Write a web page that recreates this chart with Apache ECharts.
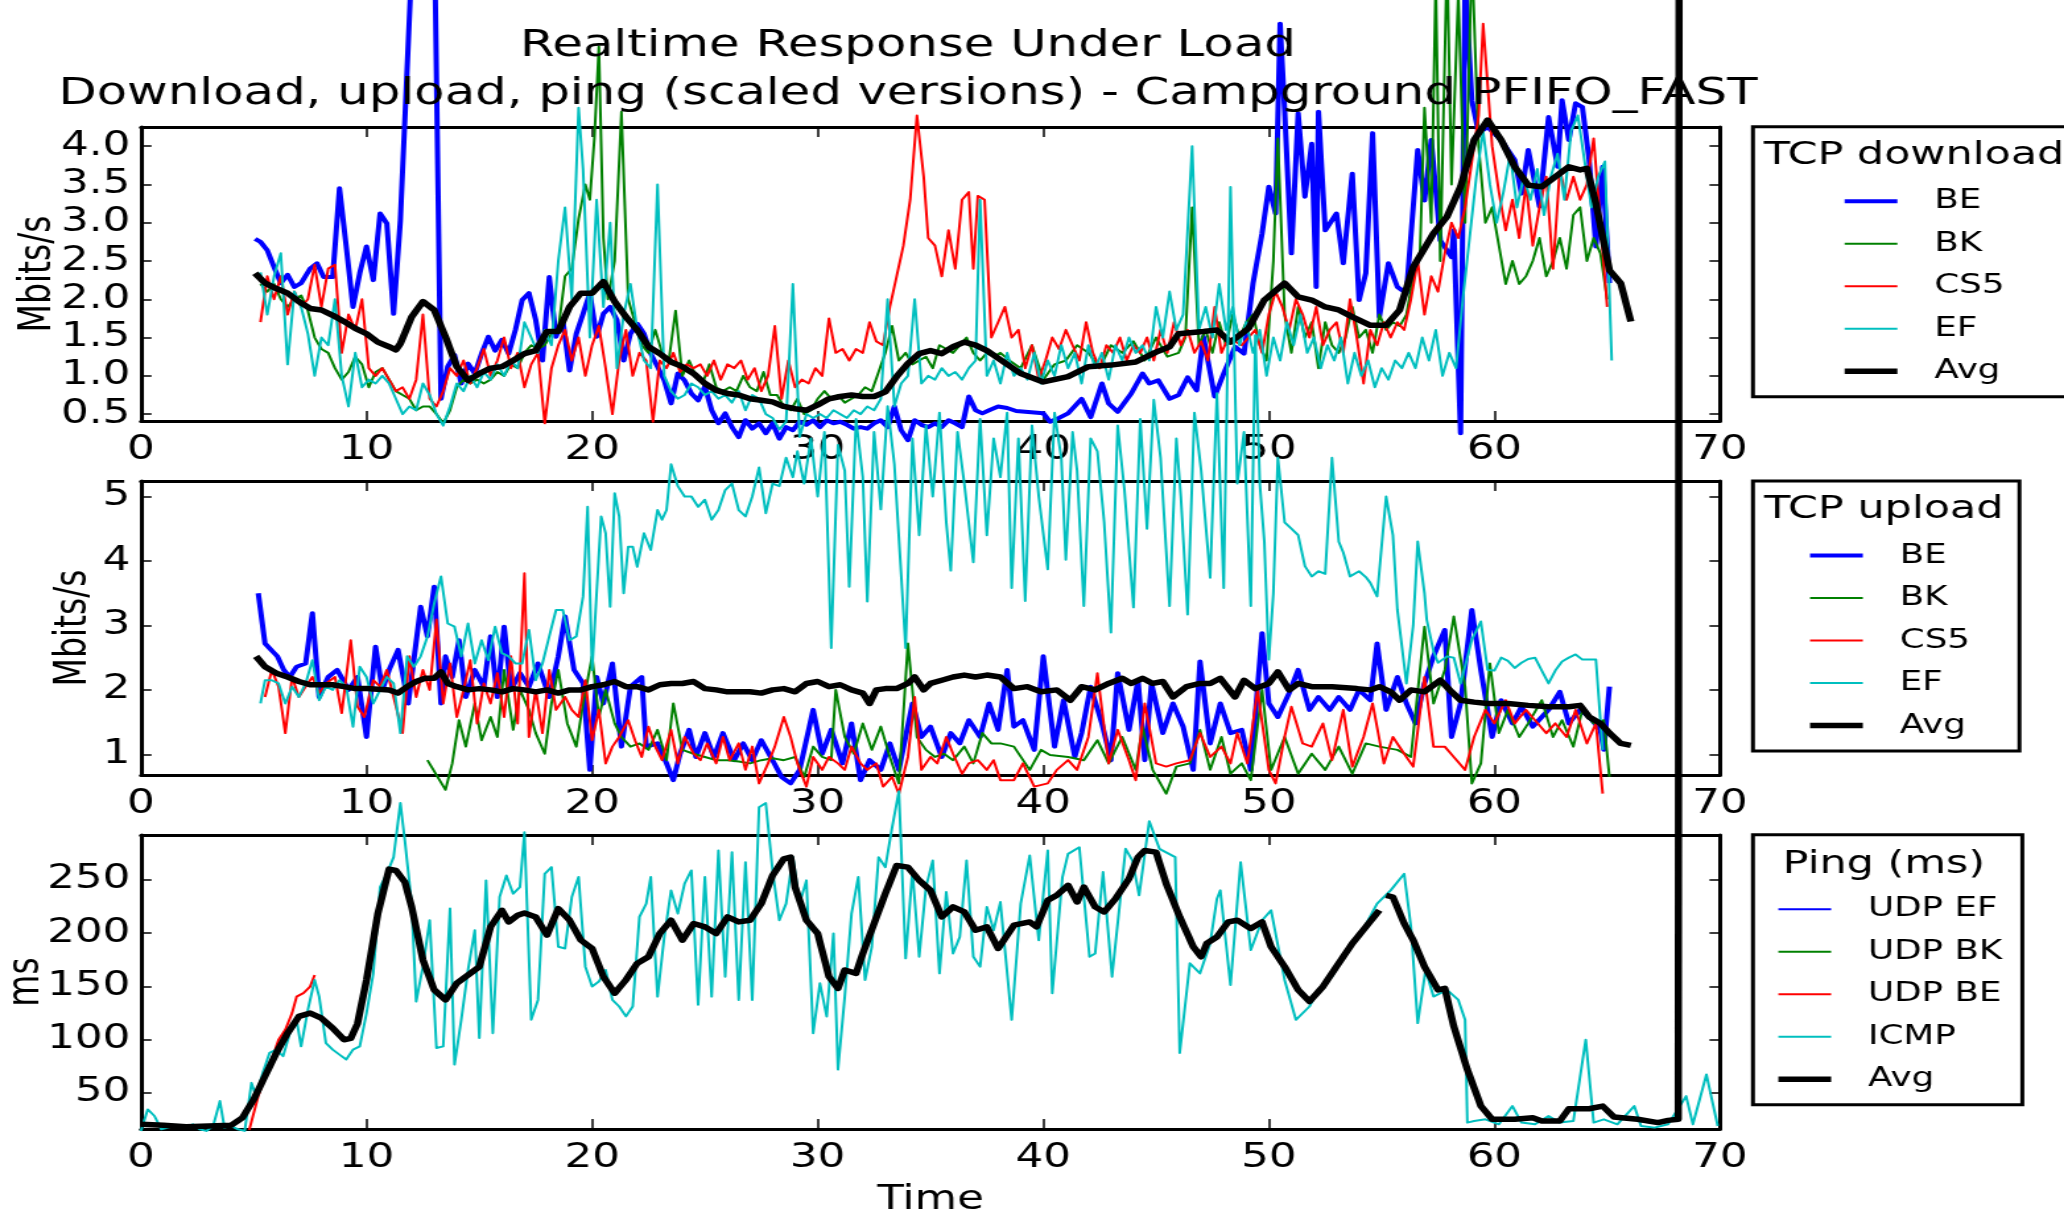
<!DOCTYPE html>
<html><head><meta charset="utf-8">
<script src="https://cdn.jsdelivr.net/npm/echarts@6/dist/echarts.min.js"></script>
<style>
html,body{margin:0;padding:0;background:#fff;overflow:hidden;}
#wrap{width:2064px;height:1212px;overflow:hidden;position:relative;background:#fff;}
#chart{width:1564px;height:1212px;transform:scaleX(1.3197);transform-origin:0 0;}
</style></head><body><div id="wrap"><div id="chart"></div></div>
<script>
// ---------- axis ticks ----------
const X_TICKS_INTERVAL = 10;
const DL_Y_TICKS = [0.5, 1.0, 1.5, 2.0, 2.5, 3.0, 3.5, 4.0];
const UL_Y_TICKS = [1, 2, 3, 4, 5];
const PING_Y_TICKS = [50, 100, 150, 200, 250];

// ---------- TCP download (Mbits/s) ----------
const DL_BE = [[5.06,2.79],[5.3,2.75],[5.6,2.64],[5.9,2.42],[6.2,2.21],[6.5,2.32],[6.8,2.16],[7.1,2.21],[7.5,2.40],[7.8,2.47],[8.1,2.29],[8.5,2.29],[8.8,3.45],[9.1,2.69],[9.4,1.90],[9.7,2.34],[10.0,2.69],[10.3,2.25],[10.6,3.12],[10.9,2.99],[11.2,1.81],[11.5,3.03],[12.1,7.0],[12.6,7.5],[13.0,7.0],[13.3,0.70],[13.6,1.12],[13.9,1.27],[14.2,0.90],[14.5,1.16],[14.8,1.03],[15.1,1.29],[15.4,1.51],[15.7,1.33],[16.0,1.47],[16.3,1.29],[16.6,1.60],[16.9,1.99],[17.2,2.08],[17.5,1.73],[17.8,1.20],[18.1,2.29],[18.4,1.51],[18.7,1.73],[19.0,1.07],[19.3,1.55],[19.6,1.81],[19.9,2.08],[20.2,1.51],[20.5,1.81],[20.8,1.90],[21.1,1.73],[21.4,1.20],[21.7,1.55],[22.0,1.68],[22.3,1.55],[22.6,1.29],[22.9,1.12],[23.2,0.94],[23.5,0.64],[23.8,1.03],[24.1,0.94],[24.4,0.77],[24.7,0.68],[25.0,0.86],[25.3,0.55],[25.6,0.38],[25.9,0.51],[26.2,0.33],[26.5,0.20],[26.8,0.42],[27.1,0.31],[27.4,0.38],[27.7,0.25],[28.0,0.38],[28.3,0.18],[28.6,0.33],[28.9,0.29],[29.2,0.40],[29.5,0.36],[29.8,0.42],[30.1,0.33],[30.4,0.42],[30.7,0.38],[31.0,0.40],[31.3,0.36],[31.6,0.31],[31.9,0.33],[32.2,0.31],[32.5,0.38],[32.8,0.42],[33.1,0.33],[33.4,0.60],[33.7,0.29],[34.0,0.16],[34.3,0.42],[34.6,0.36],[34.9,0.33],[35.2,0.38],[35.5,0.33],[35.8,0.42],[36.1,0.38],[36.4,0.33],[36.7,0.73],[37.0,0.55],[37.3,0.51],[37.6,0.55],[38.0,0.60],[38.4,0.58],[38.8,0.54],[39.2,0.53],[39.6,0.52],[40.0,0.51],[40.3,0.40],[40.7,0.45],[41.1,0.51],[41.7,0.70],[42.1,0.46],[42.6,0.90],[42.9,0.64],[43.3,0.53],[43.9,0.77],[44.4,1.03],[44.7,0.90],[45.1,0.94],[45.6,0.70],[46.0,0.75],[46.4,0.98],[46.8,0.81],[47.1,1.51],[47.6,0.73],[48.0,1.03],[48.5,1.38],[48.9,1.29],[49.3,2.21],[49.7,2.86],[50.0,3.47],[50.3,3.12],[50.5,5.6],[50.7,4.47],[51.0,2.60],[51.3,4.43],[51.6,3.34],[51.9,4.03],[52.1,2.16],[52.2,4.45],[52.5,2.90],[53.0,3.12],[53.3,2.47],[53.7,3.64],[54.0,1.99],[54.3,2.34],[54.6,4.17],[54.9,1.77],[55.3,2.47],[55.7,2.16],[56.1,2.08],[56.6,3.95],[56.9,3.29],[57.2,4.08],[57.6,2.77],[58.1,2.55],[58.2,2.90],[58.5,0.25],[58.7,6.2],[59.0,4.60],[59.3,4.17],[59.7,4.25],[60.3,4.08],[60.9,3.82],[61.2,3.38],[61.5,3.95],[62.0,3.21],[62.4,4.38],[62.8,3.73],[63.0,4.60],[63.3,4.08],[63.6,4.56],[63.9,4.51],[64.2,3.82],[64.5,2.69],[64.8,3.73],[65.1,2.21]];
const DL_BK = [[5.3,2.2],[5.6,2.1],[5.9,2.2],[6.2,2.0],[6.5,1.9],[6.8,2.0],[7.1,2.05],[7.4,1.85],[7.7,1.5],[8.0,1.35],[8.3,1.3],[8.6,1.1],[8.9,0.95],[9.2,1.05],[9.5,1.25],[9.8,1.15],[10.1,0.85],[10.4,1.05],[10.7,1.1],[11.0,0.95],[11.3,0.8],[11.6,0.75],[11.9,0.7],[12.2,0.55],[12.5,0.6],[12.8,0.6],[13.1,0.5],[13.4,0.38],[13.7,0.55],[14.0,0.85],[14.3,0.95],[14.6,0.9],[14.9,0.95],[15.2,0.9],[15.5,0.95],[15.8,1.05],[16.1,1.0],[16.4,1.15],[16.7,1.1],[17.0,1.3],[17.3,1.4],[17.6,1.35],[17.9,1.4],[18.2,1.55],[18.5,1.6],[18.8,2.3],[19.1,2.4],[19.4,3.05],[19.7,3.5],[19.9,3.3],[20.1,4.1],[20.3,5.3],[20.5,2.8],[20.7,2.0],[21.0,2.5],[21.3,4.45],[21.6,2.0],[21.9,1.7],[22.2,1.4],[22.5,1.3],[22.8,1.6],[23.1,1.3],[23.4,1.2],[23.7,1.85],[24.0,1.0],[24.3,1.2],[24.6,1.0],[24.9,0.9],[25.2,1.15],[25.5,0.85],[25.8,0.8],[26.1,0.85],[26.4,0.8],[26.7,1.0],[27.0,0.85],[27.3,0.8],[27.6,1.05],[27.9,0.75],[28.2,0.75],[28.5,0.6],[28.8,0.55],[29.1,0.7],[29.4,0.5],[29.7,0.55],[30.0,0.7],[30.3,0.8],[30.6,0.7],[30.9,0.75],[31.2,0.65],[31.5,0.7],[31.8,0.75],[32.1,0.85],[32.4,0.8],[32.7,1.05],[33.0,1.3],[33.3,1.65],[33.6,1.2],[33.9,1.3],[34.2,1.15],[34.5,1.2],[34.8,1.25],[35.1,1.1],[35.4,1.4],[35.7,1.35],[36.0,1.3],[36.3,1.4],[36.6,1.5],[36.9,1.3],[37.2,1.2],[37.5,1.3],[37.8,1.25],[38.1,1.3],[38.5,1.2],[39.0,1.1],[39.5,1.4],[40.0,0.95],[40.5,1.15],[41.0,1.2],[41.5,1.4],[42.0,1.3],[42.5,1.1],[43.0,1.4],[43.5,1.3],[44.0,1.45],[44.5,1.2],[45.0,1.5],[45.5,1.25],[46.0,1.3],[46.3,1.5],[46.6,3.2],[46.9,1.4],[47.2,1.6],[47.5,1.3],[47.8,1.7],[48.1,1.4],[48.4,1.8],[48.7,1.5],[49.0,1.7],[49.3,1.8],[49.6,1.4],[49.9,1.2],[50.2,2.5],[50.4,4.1],[50.7,1.8],[51.0,1.3],[51.3,1.9],[51.6,1.5],[51.9,1.7],[52.2,1.1],[52.5,1.7],[52.8,1.4],[53.1,1.3],[53.4,1.5],[53.7,1.9],[54.0,1.5],[54.3,1.6],[54.6,1.3],[54.9,1.8],[55.2,1.6],[55.5,1.7],[55.8,1.65],[56.1,1.8],[56.4,2.3],[56.7,2.6],[56.9,4.5],[57.2,3.0],[57.4,6.2],[57.6,2.5],[57.9,6.5],[58.1,3.5],[58.4,6.0],[58.7,3.0],[59.0,6.5],[59.3,4.0],[59.6,3.0],[59.9,3.2],[60.2,2.7],[60.5,2.2],[60.8,2.5],[61.1,2.2],[61.4,2.3],[61.7,2.5],[62.0,2.8],[62.3,2.3],[62.6,2.5],[62.9,2.8],[63.2,2.4],[63.5,3.1],[63.8,3.2],[64.1,2.5],[64.4,2.8],[64.7,2.6],[65.0,2.0]];
const DL_CS5 = [[5.3,1.7],[5.6,2.3],[5.9,2.0],[6.2,2.3],[6.5,1.8],[6.8,2.1],[7.1,1.9],[7.4,2.0],[7.7,2.45],[8.0,1.9],[8.3,2.4],[8.6,2.45],[8.9,1.3],[9.2,1.8],[9.5,1.6],[9.8,2.0],[10.1,1.1],[10.4,1.0],[10.7,1.1],[11.0,0.95],[11.3,0.8],[11.6,0.85],[11.9,0.7],[12.2,0.95],[12.5,1.8],[12.8,0.7],[13.1,0.6],[13.4,0.8],[13.7,1.1],[14.0,1.0],[14.3,1.2],[14.6,0.9],[14.9,1.1],[15.2,1.35],[15.5,1.0],[15.8,1.2],[16.1,1.5],[16.4,1.1],[16.7,1.3],[17.0,0.85],[17.3,1.15],[17.6,1.3],[17.9,0.38],[18.2,1.1],[18.5,1.4],[18.8,1.6],[19.1,1.2],[19.4,1.5],[19.7,1.0],[20.0,1.4],[20.3,1.65],[20.6,1.1],[20.9,0.5],[21.2,1.2],[21.5,1.6],[21.8,1.0],[22.1,1.3],[22.4,1.2],[22.7,0.4],[23.0,1.2],[23.3,1.1],[23.6,1.3],[23.9,1.05],[24.2,1.15],[24.5,1.1],[24.8,1.15],[25.1,1.0],[25.4,1.2],[25.7,0.95],[26.0,1.15],[26.3,1.1],[26.6,1.2],[26.9,0.95],[27.2,1.1],[27.5,0.8],[27.8,1.0],[28.1,1.65],[28.4,0.7],[28.7,1.2],[29.0,0.85],[29.3,0.95],[29.6,0.9],[29.9,1.1],[30.2,1.0],[30.5,1.75],[30.8,1.3],[31.1,1.35],[31.4,1.2],[31.7,1.35],[32.0,1.3],[32.3,1.7],[32.6,1.45],[32.9,1.4],[33.2,1.9],[33.5,2.3],[33.8,2.7],[34.1,3.3],[34.4,4.4],[34.7,3.6],[34.9,2.8],[35.2,2.7],[35.5,2.3],[35.8,2.9],[36.1,2.4],[36.4,3.3],[36.7,3.4],[36.9,2.4],[37.1,3.35],[37.4,3.3],[37.7,1.5],[38.0,1.7],[38.3,1.9],[38.6,1.5],[38.9,1.6],[39.2,1.1],[39.5,1.4],[39.8,0.95],[40.1,1.2],[40.4,1.5],[40.7,1.35],[41.0,1.6],[41.3,1.4],[41.6,1.2],[41.9,1.7],[42.2,1.3],[42.5,1.1],[42.8,1.4],[43.1,1.3],[43.4,1.5],[43.7,1.2],[44.0,1.4],[44.3,1.3],[44.6,1.5],[44.9,1.2],[45.2,1.6],[45.5,1.3],[45.8,1.7],[46.1,1.4],[46.4,1.6],[46.7,1.3],[47.0,1.45],[47.3,1.2],[47.6,1.9],[47.9,1.3],[48.2,1.5],[48.5,1.45],[48.8,1.4],[49.1,1.5],[49.4,1.6],[49.7,1.3],[50.0,1.8],[50.3,2.1],[50.6,1.9],[50.9,1.6],[51.2,2.0],[51.5,1.8],[51.8,1.5],[52.1,1.9],[52.4,1.4],[52.7,1.6],[53.0,1.7],[53.3,1.3],[53.6,2.0],[53.9,1.5],[54.2,0.9],[54.5,1.6],[54.8,1.4],[55.1,1.7],[55.4,1.5],[55.7,1.7],[56.0,1.6],[56.3,2.0],[56.6,2.5],[56.9,1.8],[57.2,2.3],[57.5,2.1],[57.8,2.6],[58.1,3.0],[58.4,2.8],[58.7,3.2],[59.0,3.8],[59.3,4.4],[59.5,5.6],[59.9,4.0],[60.2,3.4],[60.5,2.9],[60.8,3.3],[61.1,2.8],[61.4,3.5],[61.7,2.7],[62.0,3.2],[62.3,3.6],[62.6,2.4],[62.9,3.7],[63.2,3.3],[63.5,3.6],[63.8,3.3],[64.1,3.5],[64.4,4.1],[64.7,3.0],[65.0,1.9]];
const DL_EF = [[5.3,2.35],[5.6,1.8],[5.9,2.3],[6.2,2.6],[6.5,1.15],[6.8,2.1],[7.1,1.9],[7.4,1.55],[7.7,1.0],[8.0,1.5],[8.3,1.4],[8.6,2.0],[8.9,1.0],[9.2,0.6],[9.5,1.3],[9.8,0.85],[10.1,0.95],[10.4,0.9],[10.7,1.0],[11.0,0.9],[11.3,0.7],[11.6,0.5],[11.9,0.6],[12.2,0.55],[12.5,0.9],[12.8,0.75],[13.1,0.5],[13.4,0.35],[13.7,0.6],[14.0,0.9],[14.3,0.8],[14.6,1.0],[14.9,0.85],[15.2,1.05],[15.5,0.95],[15.8,1.15],[16.1,1.0],[16.4,1.2],[16.7,1.1],[17.0,1.7],[17.3,1.5],[17.6,1.3],[17.9,1.6],[18.2,1.4],[18.5,2.5],[18.8,3.2],[19.1,2.0],[19.4,4.5],[19.6,3.7],[19.9,1.5],[20.2,3.3],[20.5,1.9],[20.8,3.0],[21.1,1.1],[21.4,1.8],[21.7,2.2],[22.0,1.6],[22.3,1.2],[22.6,1.1],[22.9,3.5],[23.2,1.0],[23.5,0.8],[23.8,0.7],[24.1,0.75],[24.4,0.9],[24.7,0.85],[25.0,0.75],[25.3,0.8],[25.6,0.7],[25.9,0.75],[26.2,0.65],[26.5,0.8],[26.8,0.55],[27.1,0.75],[27.4,0.7],[27.7,0.5],[28.0,0.45],[28.3,0.3],[28.6,0.4],[28.9,2.2],[29.2,0.2],[29.5,0.5],[29.8,0.45],[30.1,0.5],[30.4,0.45],[30.7,0.55],[31.0,0.5],[31.3,0.45],[31.6,0.55],[31.9,0.5],[32.2,0.6],[32.5,0.55],[32.8,0.7],[33.1,2.0],[33.4,0.6],[33.7,0.9],[34.0,1.0],[34.3,2.0],[34.6,0.9],[34.9,1.0],[35.2,0.95],[35.5,1.1],[35.8,1.0],[36.1,1.05],[36.4,0.95],[36.7,1.1],[37.0,1.2],[37.2,3.3],[37.5,1.0],[37.8,1.2],[38.1,0.9],[38.4,1.3],[38.7,1.0],[39.0,1.1],[39.3,0.95],[39.6,1.3],[39.9,0.9],[40.2,1.2],[40.5,1.0],[40.8,1.4],[41.1,1.1],[41.4,1.3],[41.7,0.9],[42.0,1.4],[42.3,1.1],[42.6,1.3],[42.9,0.95],[43.2,1.4],[43.5,1.2],[43.8,1.5],[44.1,1.3],[44.4,1.4],[44.7,1.2],[45.0,1.9],[45.3,1.5],[45.6,2.1],[45.9,1.6],[46.2,1.8],[46.6,4.0],[46.9,1.6],[47.2,1.9],[47.5,1.5],[47.8,2.2],[48.1,1.6],[48.4,1.9],[48.7,1.4],[49.0,1.7],[49.3,1.3],[49.6,1.6],[49.9,1.0],[50.2,1.5],[50.5,1.2],[50.8,1.7],[51.1,1.4],[51.4,1.8],[51.7,1.3],[52.0,1.5],[52.3,1.1],[52.6,1.4],[52.9,1.2],[53.2,1.5],[53.5,0.9],[53.8,1.3],[54.1,1.0],[54.4,1.2],[54.7,0.85],[55.0,1.1],[55.3,0.95],[55.6,1.2],[55.9,1.1],[56.2,1.3],[56.5,1.1],[56.8,1.5],[57.1,1.2],[57.4,1.6],[57.7,1.0],[58.0,1.3],[58.3,1.1],[58.6,2.0],[58.9,2.8],[59.2,3.6],[59.5,4.2],[59.8,3.5],[60.1,3.0],[60.4,3.4],[60.7,3.9],[61.0,3.2],[61.3,3.6],[61.6,3.3],[61.9,3.7],[62.2,3.1],[62.5,3.6],[62.8,3.9],[63.1,3.3],[63.4,4.2],[63.7,4.4],[64.0,3.8],[64.3,3.2],[64.6,3.6],[64.9,3.8],[65.2,1.2]];
const DL_AVG = [[5.06,2.34],[5.5,2.21],[6,2.14],[6.5,2.08],[7,1.97],[7.5,1.88],[8,1.86],[8.5,1.79],[9,1.71],[9.5,1.62],[10,1.55],[10.5,1.44],[11,1.38],[11.3,1.34],[11.5,1.42],[12,1.77],[12.5,1.97],[13,1.86],[13.5,1.51],[14,1.12],[14.5,0.94],[15,1.03],[15.5,1.10],[16,1.12],[16.5,1.20],[17,1.29],[17.5,1.33],[18,1.58],[18.5,1.58],[19,1.90],[19.5,2.08],[20,2.08],[20.5,2.23],[21,1.97],[21.5,1.77],[22,1.60],[22.5,1.38],[23,1.29],[23.5,1.18],[24,1.12],[24.5,1.03],[25,0.90],[25.5,0.81],[26,0.77],[26.5,0.75],[27,0.70],[27.5,0.68],[28,0.66],[28.5,0.60],[29,0.57],[29.5,0.55],[30,0.62],[30.5,0.70],[31,0.73],[31.5,0.75],[32,0.73],[32.5,0.73],[33,0.79],[33.5,0.99],[34,1.16],[34.5,1.29],[35,1.33],[35.5,1.29],[36,1.38],[36.5,1.44],[37,1.40],[37.5,1.33],[38.1,1.21],[39.0,1.03],[40.0,0.92],[41.1,0.99],[42.0,1.12],[43.0,1.14],[44.1,1.18],[45.0,1.31],[45.6,1.38],[46.0,1.55],[47.1,1.58],[47.7,1.60],[48.3,1.44],[49.1,1.62],[49.8,1.99],[50.7,2.21],[51.3,2.03],[51.9,1.99],[52.5,1.90],[53.1,1.86],[53.7,1.77],[54.5,1.66],[55.2,1.66],[55.8,1.86],[56.4,2.42],[57.3,2.86],[57.9,3.08],[58.5,3.47],[59.1,4.08],[59.7,4.34],[60.3,4.08],[60.9,3.73],[61.5,3.49],[62.1,3.47],[62.7,3.60],[63.3,3.73],[63.8,3.69],[64.1,3.71],[64.5,3.25],[65.1,2.38],[65.6,2.21],[66.05,1.71]];

// ---------- TCP upload (Mbits/s) ----------
const UL_BE = [[5.2,3.5],[5.5,2.72],[5.77,2.62],[6.05,2.52],[6.33,2.31],[6.6,2.2],[6.9,2.36],[7.3,2.41],[7.6,3.19],[7.9,1.89],[8.3,2.2],[8.7,2.31],[9.2,2.0],[9.6,2.2],[10.0,1.27],[10.4,2.67],[10.7,2.0],[11.0,2.31],[11.4,2.62],[11.85,1.79],[12.4,3.29],[12.7,2.83],[13.0,3.6],[13.3,1.79],[13.5,2.52],[13.8,2.2],[14.1,2.77],[14.4,1.89],[14.8,2.31],[15.2,2.05],[15.5,2.83],[15.8,1.89],[16.1,2.98],[16.4,2.0],[16.8,2.26],[17.2,2.05],[17.6,2.41],[18.1,1.89],[18.5,2.52],[18.8,3.14],[19.2,2.31],[19.6,2.1],[19.9,0.76],[20.2,2.2],[20.5,1.79],[20.9,2.41],[21.3,1.12],[21.7,2.05],[22.2,2.2],[22.4,1.12],[22.9,1.17],[23.3,0.86],[23.6,0.6],[23.9,1.01],[24.3,1.38],[24.6,0.96],[25.0,1.33],[25.4,0.96],[25.8,1.33],[26.3,0.91],[26.7,1.17],[27.1,0.91],[27.5,1.22],[28.0,0.91],[28.4,0.65],[28.8,0.55],[29.2,0.76],[29.8,1.69],[30.2,1.01],[30.6,1.38],[31.1,0.86],[31.5,1.48],[31.9,0.6],[32.3,0.91],[32.8,0.76],[33.2,1.17],[33.6,0.76],[34.2,1.79],[34.6,1.27],[35.0,1.43],[35.5,0.96],[35.9,1.33],[36.3,1.17],[36.7,1.53],[37.2,1.27],[37.6,1.79],[38.0,1.38],[38.4,2.31],[38.7,1.43],[39.1,1.53],[39.6,1.07],[40.0,2.52],[40.5,1.12],[40.9,1.84],[41.4,0.96],[41.7,1.33],[42.1,2.05],[42.6,1.48],[43.0,0.91],[43.3,2.26],[43.8,1.38],[44.2,2.15],[44.5,0.91],[44.8,2.1],[45.3,1.33],[45.75,1.79],[46.2,1.43],[46.65,0.76],[46.95,2.44],[47.4,1.17],[47.85,1.79],[48.3,1.33],[48.8,1.38],[49.2,0.76],[49.7,2.88],[50.0,1.79],[50.4,1.58],[50.9,1.95],[51.3,2.31],[51.8,1.69],[52.2,1.89],[52.7,1.69],[53.1,1.89],[53.6,1.69],[54.0,2.0],[54.5,1.84],[54.8,2.72],[55.2,1.69],[55.7,2.2],[56.1,1.79],[56.5,1.48],[56.9,2.1],[57.3,2.52],[57.8,2.93],[58.1,1.27],[58.5,1.79],[59.0,3.24],[59.4,2.31],[59.9,1.27],[60.3,1.84],[60.8,1.48],[61.2,1.74],[61.7,1.43],[62.1,1.58],[62.4,1.69],[62.9,1.97],[63.3,1.48],[63.8,1.69],[64.2,1.58],[64.7,1.38],[64.85,1.07],[65.1,2.05]];
const UL_BK = [[12.7,0.91],[13.5,0.45],[13.8,0.86],[14.1,1.53],[14.4,1.12],[14.8,1.79],[15.1,1.22],[15.5,1.58],[15.8,1.27],[16.1,2.31],[16.5,1.38],[16.8,2.0],[17.2,1.69],[17.5,1.33],[17.9,1.01],[18.2,1.79],[18.5,2.31],[18.9,1.48],[19.3,1.12],[19.6,1.79],[20.0,2.52],[20.3,1.58],[20.6,2.0],[21.0,1.48],[21.3,1.27],[21.7,1.12],[22.1,1.17],[22.5,1.07],[22.9,1.38],[23.3,0.91],[23.6,1.79],[24.0,1.07],[24.5,1.01],[25.0,0.96],[25.5,0.91],[26.0,0.91],[26.5,0.89],[27.0,0.86],[27.5,0.91],[28.0,0.94],[28.5,0.91],[29.0,0.96],[29.4,0.65],[29.8,1.12],[30.2,0.96],[30.6,0.91],[30.8,2.0],[31.2,1.27],[31.6,1.01],[32.0,1.48],[32.4,1.07],[32.8,1.43],[33.2,0.96],[33.6,0.55],[34.0,2.72],[34.4,1.27],[34.8,1.07],[35.2,0.96],[35.6,1.01],[36.0,0.91],[36.5,1.12],[36.9,0.86],[37.3,1.33],[37.7,1.17],[38.1,1.17],[38.7,1.12],[39.4,0.76],[39.9,1.07],[40.3,0.99],[41.1,0.96],[41.8,0.91],[42.4,1.22],[42.9,0.86],[43.5,1.27],[44.1,0.76],[44.4,1.43],[44.85,0.76],[45.45,0.39],[45.9,0.81],[46.5,0.86],[46.95,1.38],[47.4,0.76],[47.9,1.27],[48.3,0.70],[48.8,0.86],[49.2,0.60],[49.7,2.0],[50.1,0.76],[50.7,1.27],[51.3,0.70],[51.9,1.01],[52.5,0.76],[53.1,1.12],[53.7,0.70],[54.3,1.17],[54.9,1.12],[55.7,1.07],[56.3,0.96],[56.9,2.98],[57.3,1.79],[57.8,2.31],[58.2,3.14],[58.7,2.05],[59.0,0.55],[59.4,0.86],[59.8,2.41],[60.2,1.33],[60.6,1.69],[61.1,1.27],[61.5,1.48],[62.1,1.84],[62.6,1.27],[63.0,1.53],[63.5,1.12],[63.9,1.69],[64.4,1.48],[64.85,1.53],[65.1,0.65]];
const UL_CS5 = [[5.5,1.89],[5.8,2.31],[6.1,2.05],[6.4,1.33],[6.7,2.2],[7.0,1.89],[7.3,2.05],[7.6,2.2],[7.9,1.95],[8.2,2.1],[8.6,2.2],[8.9,1.64],[9.3,2.77],[9.6,1.74],[9.9,1.58],[10.3,2.15],[10.6,2.05],[10.9,2.31],[11.2,1.89],[11.6,1.33],[11.9,2.52],[12.2,1.89],[12.5,2.31],[12.8,2.0],[13.1,3.09],[13.4,1.79],[13.7,2.41],[14.0,1.58],[14.3,2.0],[14.6,2.46],[14.9,1.48],[15.2,2.1],[15.5,1.79],[15.8,2.26],[16.1,1.58],[16.4,2.52],[16.7,1.48],[17.0,3.81],[17.2,1.27],[17.5,2.0],[17.8,1.33],[18.1,2.31],[18.4,1.69],[18.8,1.89],[19.1,1.69],[19.4,1.58],[19.7,2.15],[20.0,1.22],[20.3,1.69],[20.6,0.86],[20.9,1.12],[21.2,1.27],[21.6,1.53],[21.9,1.22],[22.2,0.96],[22.5,1.43],[22.8,1.12],[23.1,0.91],[23.5,1.38],[23.8,0.86],[24.1,1.27],[24.5,1.01],[24.8,0.91],[25.1,1.17],[25.5,0.86],[25.8,1.27],[26.1,0.91],[26.5,1.17],[26.8,0.76],[27.1,1.12],[27.4,0.55],[27.8,0.86],[28.1,1.12],[28.5,1.58],[28.8,1.27],[29.1,0.86],[29.5,0.5],[29.8,0.96],[30.2,0.76],[30.5,0.96],[30.9,0.86],[31.2,0.76],[31.5,1.12],[31.9,0.86],[32.2,0.76],[32.6,0.86],[32.9,0.5],[33.3,0.65],[33.6,0.39],[34.0,0.96],[34.3,1.89],[34.6,0.76],[35.0,0.96],[35.3,0.86],[35.7,1.27],[36.0,1.01],[36.4,0.70],[36.7,0.86],[37.1,0.91],[37.5,0.76],[37.8,0.91],[38.1,0.6],[38.7,0.6],[39.1,0.86],[39.6,0.5],[40.2,0.55],[40.6,0.76],[41.1,0.91],[41.5,0.76],[42.0,1.27],[42.4,2.26],[42.9,0.86],[43.3,1.38],[43.8,0.91],[44.1,0.6],[44.5,1.79],[45.0,0.86],[45.45,0.81],[45.9,0.86],[46.5,0.91],[46.95,1.33],[47.4,0.96],[47.9,1.12],[48.3,0.86],[48.6,1.33],[49.05,0.86],[49.5,2.0],[50.0,0.76],[50.3,0.55],[50.7,1.27],[51.0,1.74],[51.5,1.17],[51.9,1.12],[52.4,1.48],[52.8,0.91],[53.3,1.69],[53.7,0.81],[54.2,1.27],[54.6,1.79],[55.1,0.86],[55.5,1.27],[56.0,1.01],[56.4,0.81],[56.9,2.2],[57.3,1.12],[57.8,1.12],[58.2,0.96],[58.7,0.76],[59.1,1.27],[59.6,1.69],[60.0,1.48],[60.5,1.84],[60.9,1.48],[61.4,1.69],[61.8,1.53],[62.3,1.33],[62.7,1.48],[63.2,1.27],[63.6,1.69],[64.1,1.17],[64.5,1.48],[64.8,0.39]];
const UL_EF = [[5.3,1.79],[5.5,2.15],[5.8,2.15],[6.1,2.1],[6.4,1.79],[6.7,2.05],[7.0,1.89],[7.3,2.1],[7.6,2.46],[7.9,1.84],[8.2,2.05],[8.5,2.0],[8.8,2.15],[9.1,2.05],[9.4,1.43],[9.7,2.36],[10.0,2.2],[10.3,1.79],[10.6,2.0],[10.9,2.2],[11.2,2.1],[11.5,1.33],[11.8,2.52],[12.1,2.36],[12.4,2.52],[12.7,2.83],[13.0,3.34],[13.3,3.76],[13.6,3.03],[13.9,2.98],[14.2,2.52],[14.5,3.03],[14.8,2.41],[15.1,2.77],[15.4,2.46],[15.7,2.98],[16.0,2.57],[16.3,2.52],[16.6,2.41],[16.9,2.41],[17.2,2.93],[17.5,2.15],[17.8,2.41],[18.1,2.83],[18.4,3.24],[18.7,3.24],[19.0,2.77],[19.3,2.83],[19.6,3.45],[19.8,4.84],[20.0,2.31],[20.2,3.5],[20.4,4.69],[20.6,4.43],[20.8,3.29],[21.0,5.05],[21.2,4.69],[21.4,3.5],[21.6,4.22],[21.8,4.22],[22.0,3.91],[22.3,4.43],[22.6,4.17],[22.9,4.79],[23.1,4.64],[23.3,4.79],[23.5,5.5],[23.8,5.16],[24.1,5.0],[24.4,5.0],[24.7,4.84],[25.0,4.95],[25.3,4.64],[25.6,4.79],[25.9,5.1],[26.2,5.2],[26.5,4.79],[26.8,4.69],[27.1,5.0],[27.4,5.45],[27.7,4.74],[28.0,5.2],[28.3,5.16],[28.6,5.6],[28.9,5.3],[29.1,5.7],[29.4,5.2],[29.7,5.9],[30.0,5.0],[30.3,6.0],[30.6,2.65],[30.9,5.8],[31.2,5.4],[31.4,3.6],[31.7,6.2],[32.0,5.3],[32.2,3.37],[32.5,6.0],[32.8,4.8],[33.1,6.4],[33.4,5.5],[33.9,2.65],[34.2,5.9],[34.5,4.4],[34.8,6.1],[35.1,5.0],[35.4,6.3],[35.7,4.6],[35.9,3.85],[36.2,6.0],[36.5,5.2],[36.9,3.98],[37.2,6.2],[37.5,4.4],[37.8,5.9],[38.1,5.3],[38.4,6.3],[38.6,3.58],[38.9,5.9],[39.2,3.38],[39.5,6.1],[39.8,5.0],[40.2,3.87],[40.5,6.3],[40.8,5.6],[41.0,4.02],[41.3,6.0],[41.5,5.4],[41.8,3.3],[42.1,5.9],[42.4,5.7],[42.7,4.6],[43.0,2.89],[43.3,6.1],[43.6,5.1],[44.0,3.28],[44.3,6.2],[44.6,4.5],[44.9,6.5],[45.2,5.6],[45.6,3.3],[45.9,5.9],[46.1,5.0],[46.4,3.17],[46.7,6.3],[47.0,5.4],[47.4,3.74],[47.7,6.6],[48.0,3.58],[48.3,9.8],[48.6,5.2],[48.9,6.0],[49.2,3.3],[49.4,7.5],[49.6,5.2],[49.8,4.3],[50.0,2.47],[50.2,3.5],[50.4,5.6],[50.7,4.6],[51.0,4.5],[51.3,4.4],[51.6,3.92],[51.9,3.76],[52.2,3.84],[52.5,3.8],[52.8,5.6],[53.1,4.3],[53.3,4.13],[53.6,3.76],[54.0,3.84],[54.3,3.75],[54.5,3.66],[54.8,3.45],[55.2,5.0],[55.5,4.4],[55.7,3.24],[56.1,2.1],[56.4,3.0],[56.6,4.3],[56.9,3.5],[57.0,3.09],[57.3,2.6],[57.5,2.42],[57.9,2.52],[58.2,2.5],[58.5,2.1],[58.8,2.5],[59.0,2.78],[59.4,3.06],[59.7,2.31],[60.0,2.3],[60.3,2.5],[60.6,2.45],[60.9,2.34],[61.2,2.42],[61.5,2.48],[61.8,2.5],[62.1,2.3],[62.4,2.1],[62.7,2.3],[63.0,2.44],[63.3,2.5],[63.6,2.55],[63.9,2.47],[64.2,2.47],[64.5,2.47],[64.8,1.07]];
const UL_AVG = [[5.1,2.52],[5.5,2.36],[6.0,2.26],[6.5,2.2],[7.0,2.13],[7.5,2.08],[8.0,2.08],[8.5,2.08],[9.0,2.05],[9.5,2.02],[10.0,2.02],[10.5,2.01],[11.0,2.0],[11.4,1.95],[11.8,2.05],[12.2,2.13],[12.6,2.18],[13.0,2.18],[13.3,2.28],[13.6,2.1],[14.0,2.05],[14.5,2.0],[15.0,2.02],[15.5,2.0],[16.0,1.97],[16.5,2.02],[17.0,2.0],[17.5,1.97],[18.0,2.0],[18.5,1.95],[19.0,2.0],[19.5,2.0],[20.0,2.05],[20.5,2.08],[21.0,2.13],[21.5,2.05],[22.0,2.05],[22.5,2.0],[23.0,2.08],[23.5,2.1],[24.0,2.1],[24.5,2.13],[25.0,2.02],[25.5,2.0],[26.0,1.97],[26.5,1.97],[27.0,1.97],[27.5,1.95],[28.0,2.0],[28.5,2.02],[29.0,1.97],[29.5,2.1],[30.0,2.13],[30.5,2.05],[31.0,2.08],[31.5,2.0],[32.0,1.95],[32.3,1.79],[32.6,2.0],[33.0,2.02],[33.5,2.02],[34.0,2.1],[34.3,2.2],[34.7,2.0],[35.0,2.1],[35.5,2.15],[36.0,2.2],[36.5,2.23],[37.0,2.2],[37.5,2.23],[38.1,2.2],[38.7,2.02],[39.3,2.05],[39.9,1.97],[40.6,2.0],[41.2,1.84],[41.7,2.05],[42.3,2.0],[42.9,2.1],[43.5,2.18],[43.9,2.1],[44.4,2.18],[44.85,2.1],[45.3,2.13],[45.75,1.89],[46.35,2.05],[46.95,2.1],[47.4,2.1],[47.85,2.18],[48.5,1.89],[48.9,2.15],[49.4,2.02],[50.0,2.1],[50.4,2.28],[50.9,2.0],[51.3,2.1],[51.9,2.05],[52.8,2.05],[53.9,2.02],[54.5,2.0],[54.9,2.05],[55.4,1.97],[55.8,1.84],[56.3,2.0],[56.9,1.97],[57.6,2.15],[58.1,1.97],[58.5,1.84],[59.1,1.81],[59.7,1.79],[60.6,1.79],[61.5,1.76],[62.4,1.74],[63.3,1.74],[63.8,1.76],[64.2,1.58],[64.7,1.48],[65.1,1.33],[65.6,1.17],[66.05,1.14]];

// ---------- Ping (ms) ----------
const PING_UDP_EF = [];
const PING_UDP_BK = [];
const PING_UDP_BE = [[4.8,15],[5.2,46.9],[5.5,65.6],[5.8,81.2],[6.1,99.8],[6.4,109.2],[6.7,124.8],[6.9,140.3],[7.2,143.5],[7.5,149.7],[7.7,160.6]];
const PING_ICMP = [[0,14.2],[0.3,34.4],[0.6,28.2],[0.9,15.7],[1.2,17.3],[1.5,18.8],[2.0,17.3],[2.3,20.4],[2.6,15.7],[2.9,14.2],[3.2,18.8],[3.5,42.2],[3.7,17.3],[4.0,18.8],[4.3,15.7],[4.6,14.2],[4.9,59.3],[5.1,46.9],[5.4,68.7],[5.7,87.4],[6.0,90.5],[6.3,84.3],[6.6,106],[6.9,118.5],[7.1,93.6],[7.4,127.9],[7.7,155.9],[7.9,140.3],[8.2,96.7],[8.5,90.5],[8.8,85.8],[9.1,81.2],[9.4,90.5],[9.7,93.6],[10.0,124.8],[10.3,162.1],[10.6,243.1],[10.9,255.6],[11.2,271.2],[11.5,322],[11.7,286.8],[12.0,227.6],[12.2,135.7],[12.5,168.4],[12.8,212],[13.1,92.1],[13.4,93.6],[13.7,222.9],[13.9,76.5],[14.2,118.5],[14.5,165.3],[14.8,202.6],[15.0,101.4],[15.3,249.4],[15.6,106],[15.9,233.8],[16.2,254],[16.5,236.9],[16.8,243.1],[17.0,294.5],[17.3,118.5],[17.6,137.2],[17.9,255.6],[18.2,261.8],[18.5,187.1],[18.8,185.5],[19.1,233.8],[19.4,252.5],[19.7,168.4],[20.0,149.7],[20.3,154.4],[20.6,165.3],[20.9,137.2],[21.2,131],[21.5,121.7],[21.8,131],[22.1,215.1],[22.4,227.6],[22.6,252.5],[22.9,140.3],[23.2,196.4],[23.5,240],[23.8,218.2],[24.1,246.3],[24.4,258.7],[24.7,132.6],[25.0,252.5],[25.3,140.3],[25.6,277.4],[25.9,159],[26.2,275.9],[26.5,137.2],[26.8,266.5],[27.1,137.2],[27.4,318],[27.7,322],[28.0,258.7],[28.3,212],[28.6,227.6],[28.9,271.2],[29.2,227.6],[29.5,249.4],[29.8,106],[30.1,152.8],[30.4,121.7],[30.7,199.5],[30.9,71.8],[31.2,140.3],[31.5,218.2],[31.8,252.5],[32.1,155.9],[32.4,187.1],[32.7,271.2],[33.0,261.8],[33.3,299.2],[33.6,333],[33.9,176.2],[34.2,258.7],[34.5,177.7],[34.8,243.1],[35.1,268],[35.4,162.1],[35.7,238.5],[36.0,180.8],[36.3,196.4],[36.6,268],[36.9,177.7],[37.2,168.4],[37.5,224.5],[37.8,202.6],[38.1,229],[38.6,118.5],[39.0,227.6],[39.4,272.7],[39.8,193.3],[40.2,277.4],[40.4,143.5],[40.85,252.5],[41.1,274.3],[41.6,280.5],[42.05,177.7],[42.3,180.8],[42.65,257.2],[43.05,159],[43.65,279],[43.95,268.1],[44.25,235.4],[44.7,305],[45.15,279],[45.85,271.2],[46.05,87.4],[46.5,171.5],[46.95,162.1],[47.4,190.2],[47.7,232.2],[47.85,240],[48.3,151.2],[48.75,266.5],[49.2,184],[49.7,212],[50.1,221.3],[50.7,155.9],[51.2,118.5],[51.8,131],[52.2,146.6],[52.8,159],[53.4,180.8],[54.0,196.4],[54.8,227.6],[55.4,240],[56.0,255.6],[56.3,205.8],[56.6,115.4],[56.95,165.3],[57.3,140.3],[57.9,146.6],[58.4,137.2],[58.7,118.5],[58.8,22],[59.1,23.5],[59.6,25.1],[60.2,20.4],[60.8,37.5],[61.2,22],[61.8,20.4],[62.4,28.2],[62.9,22],[63.5,23.5],[64.05,99.8],[64.4,22],[64.85,25.1],[65.45,20.4],[66.2,37.5],[66.5,18.8],[67.1,17.3],[67.7,20.4],[68.5,46.9],[68.8,20.4],[69.4,67.1],[69.9,18.8]];
const PING_AVG = [[0,20.4],[1,19.5],[2,18.2],[3,18.8],[4,19.5],[4.5,26.6],[5,43.8],[5.5,65.6],[6,87.4],[6.5,106],[7,121.7],[7.5,124.8],[8,120],[8.5,110.7],[9,99.8],[9.3,101],[9.6,115],[10,156],[10.5,218],[11,260],[11.3,258.7],[11.7,247.8],[12,224.5],[12.5,174.6],[13,146.6],[13.5,137.2],[14,152.8],[14.5,160.6],[15,168.4],[15.5,205.8],[16,221.3],[16.3,210.4],[16.7,216.6],[17,218.8],[17.5,215],[18,198],[18.5,222.9],[19,212],[19.5,193.3],[20,185.5],[20.5,159],[21,143.5],[21.5,156],[22,171.5],[22.5,177.7],[23,199.5],[23.5,212],[24,193.3],[24.5,208.9],[25,205.8],[25.5,199.5],[26,215.1],[26.5,210.4],[27,212],[27.5,227.6],[28,254],[28.5,269.6],[28.8,271.2],[29,243],[29.5,212],[30,199.5],[30.5,159],[30.9,148],[31.2,165.3],[31.7,162.1],[32,180.8],[32.5,208.9],[33,237],[33.5,263.4],[34,261.8],[34.5,249.4],[35,240],[35.5,215.1],[36,224.5],[36.5,219.8],[37,202.6],[37.5,205.8],[38,185.5],[38.7,207.3],[39.4,210.4],[39.7,205.8],[40.2,230.7],[40.6,235.4],[41.1,244.7],[41.5,229.1],[41.8,243.1],[42.3,224.5],[42.7,219.8],[43.2,232.2],[43.8,250.9],[44.2,271.2],[44.5,277.4],[45.0,275.9],[45.45,246.3],[46.05,215],[46.65,187.1],[47.0,177.7],[47.25,190.2],[47.7,196.4],[48.2,210.4],[48.6,212],[49.2,204.2],[49.7,210.4],[50.1,187.1],[50.7,168.4],[51.3,146.6],[51.8,135.7],[52.4,149.7],[53.1,171.5],[53.7,190.2],[54.3,205.8],[54.9,221.3],[55.05,null],[55.2,235.4],[55.5,233.8],[56.0,208.9],[56.4,193.3],[56.9,168.4],[57.5,146.6],[57.8,148.1],[58.2,112.3],[58.8,71.8],[59.4,37.5],[59.9,25.1],[60.9,25.1],[61.7,26.6],[62.1,23.5],[62.9,23.5],[63.3,35],[64.2,35],[64.8,37.5],[65.3,27.3],[66.35,25.1],[67.25,22],[67.7,24.1],[68.15,25.1],[68.25,3000]];

// ---------- styling ----------
const FONT = 'DejaVu Sans';
const COL = { BE:'#0000ff', BK:'#008000', CS5:'#ff0000', EF:'#00bfbf', AVG:'#000000' };
const GRID_TOPS = [127, 481, 835];
const GRID_LEFT = 106.8, GRID_W = 1196.5, GRID_H = 294;
const Y_RANGES = [[0.41, 4.25], [0.68, 5.24], [16, 292]];
const Y_TICKS = [DL_Y_TICKS, UL_Y_TICKS, PING_Y_TICKS];
const Y_FMT = [v => v.toFixed(1), v => String(v), v => String(v)];
const Y_NAMES = ['Mbits/s', 'Mbits/s', 'ms'];
const Y_NAME_GAPS = [61, 34, 70];
const TICK_FS = 33;

const axisLine = { show: true, onZero: false, lineStyle: { color: '#000', width: 3 } };
const grid = GRID_TOPS.map(t => ({ left: GRID_LEFT, width: GRID_W, top: t, height: GRID_H,
  containLabel: false, outerBoundsMode: 'none' }));

const xAxis = [], yAxis = [];
GRID_TOPS.forEach((t, i) => {
  const common = { gridIndex: i, type: 'value', min: 0, max: 70, interval: X_TICKS_INTERVAL, splitLine: { show: false }, axisLine,
                   axisTick: { show: true, inside: true, length: 10, lineStyle: { color: '#000', width: 1.5 } } };
  xAxis.push(Object.assign({}, common, { position: 'bottom',
    axisLabel: { show: true, color: '#000', fontFamily: FONT, fontSize: TICK_FS, margin: 12.5, hideOverlap: false },
    name: i === 2 ? 'Time' : '', nameLocation: 'middle', nameGap: 55, nameMoveOverlap: false,
    nameTextStyle: { color: '#000', fontFamily: FONT, fontSize: 33 } }));
  xAxis.push(Object.assign({}, common, { position: 'top', axisLabel: { show: false } }));
  const ycommon = { gridIndex: i, type: 'value', min: Y_RANGES[i][0], max: Y_RANGES[i][1], splitLine: { show: false }, axisLine,
                    axisTick: { show: true, inside: true, length: 8, customValues: Y_TICKS[i], lineStyle: { color: '#000', width: 1.5 } } };
  yAxis.push(Object.assign({}, ycommon, { position: 'left',
    axisLabel: { show: true, customValues: Y_TICKS[i], formatter: Y_FMT[i], color: '#000', fontFamily: FONT, fontSize: TICK_FS, margin: 8 },
    name: Y_NAMES[i], nameLocation: 'middle', nameRotate: 90, nameGap: Y_NAME_GAPS[i], nameMoveOverlap: false,
    nameTextStyle: { color: '#000', fontFamily: FONT, fontSize: 33 } }));
  yAxis.push(Object.assign({}, ycommon, { position: 'right', axisLabel: { show: false } }));
});

function line(name, data, gi, color, width) {
  return { type: 'line', name, data, xAxisIndex: gi * 2, yAxisIndex: gi * 2, symbol: 'none', showSymbol: false,
           clip: false, silent: true, connectNulls: false, animation: false,
           lineStyle: { color, width, join: 'round' }, itemStyle: { color } };
}
const series = [
  line('BE', DL_BE, 0, COL.BE, 4), line('BK', DL_BK, 0, COL.BK, 2), line('CS5', DL_CS5, 0, COL.CS5, 2),
  line('EF', DL_EF, 0, COL.EF, 2), line('Avg', DL_AVG, 0, COL.AVG, 5.5),
  line('BE', UL_BE, 1, COL.BE, 4), line('BK', UL_BK, 1, COL.BK, 2), line('CS5', UL_CS5, 1, COL.CS5, 2),
  line('EF', UL_EF, 1, COL.EF, 2), line('Avg', UL_AVG, 1, COL.AVG, 5.5),
  line('UDP EF', PING_UDP_EF, 2, COL.BE, 2), line('UDP BK', PING_UDP_BK, 2, COL.BK, 2), line('UDP BE', PING_UDP_BE, 2, COL.CS5, 2),
  line('ICMP', PING_ICMP, 2, COL.EF, 2), line('Avg', PING_AVG, 2, COL.AVG, 5.5)
];

const LEG_LEFT = 1328.3;
function legend(names, top, padL, padR) {
  return { orient: 'vertical', left: LEG_LEFT, top, data: names, selectedMode: false,
    padding: [59.5, padR, 10.5, padL], itemGap: 12.5, itemWidth: 40, itemHeight: 30,
    borderColor: '#000', borderWidth: 3, borderRadius: 0,
    lineStyle: { width: 'inherit' }, itemStyle: { opacity: 0 },
    textStyle: { color: '#000', fontFamily: FONT, fontSize: 27, lineHeight: 30, padding: [0, 0, 0, 23] } };
}
const legendOpt = [
  legend(['BE', 'BK', 'CS5', 'EF', 'Avg'], 126.7, 66.7, 180),
  legend(['BE', 'BK', 'CS5', 'EF', 'Avg'], 481, 40.5, 37.5),
  legend(['UDP EF', 'UDP BK', 'UDP BE', 'ICMP', 'Avg'], 834.7, 16.5, 15.2)
];

function ttl(text, x, y, size, align) {
  return { text, left: x, top: y, padding: 0, textAlign: align || 'center', textVerticalAlign: 'middle',
           textStyle: { color: '#000', fontFamily: FONT, fontSize: size, fontWeight: 'normal' } };
}
const title = [
  ttl('Realtime Response Under Load', 688, 46.5, 37.7),
  ttl('Download, upload, ping (scaled versions) - Campground PFIFO_FAST', 688, 94.5, 37.7),
  ttl('TCP download', 1336.5, 156, 32.5, 'left'),
  ttl('TCP upload', 1427.5, 510, 32.5),
  ttl('Ping (ms)', 1427.5, 864.5, 32.5)
];

const chart = echarts.init(document.getElementById('chart'), null, { renderer: 'canvas' });
chart.setOption({ animation: false, backgroundColor: '#fff', title, legend: legendOpt, grid, xAxis, yAxis, series });
</script></body></html>
